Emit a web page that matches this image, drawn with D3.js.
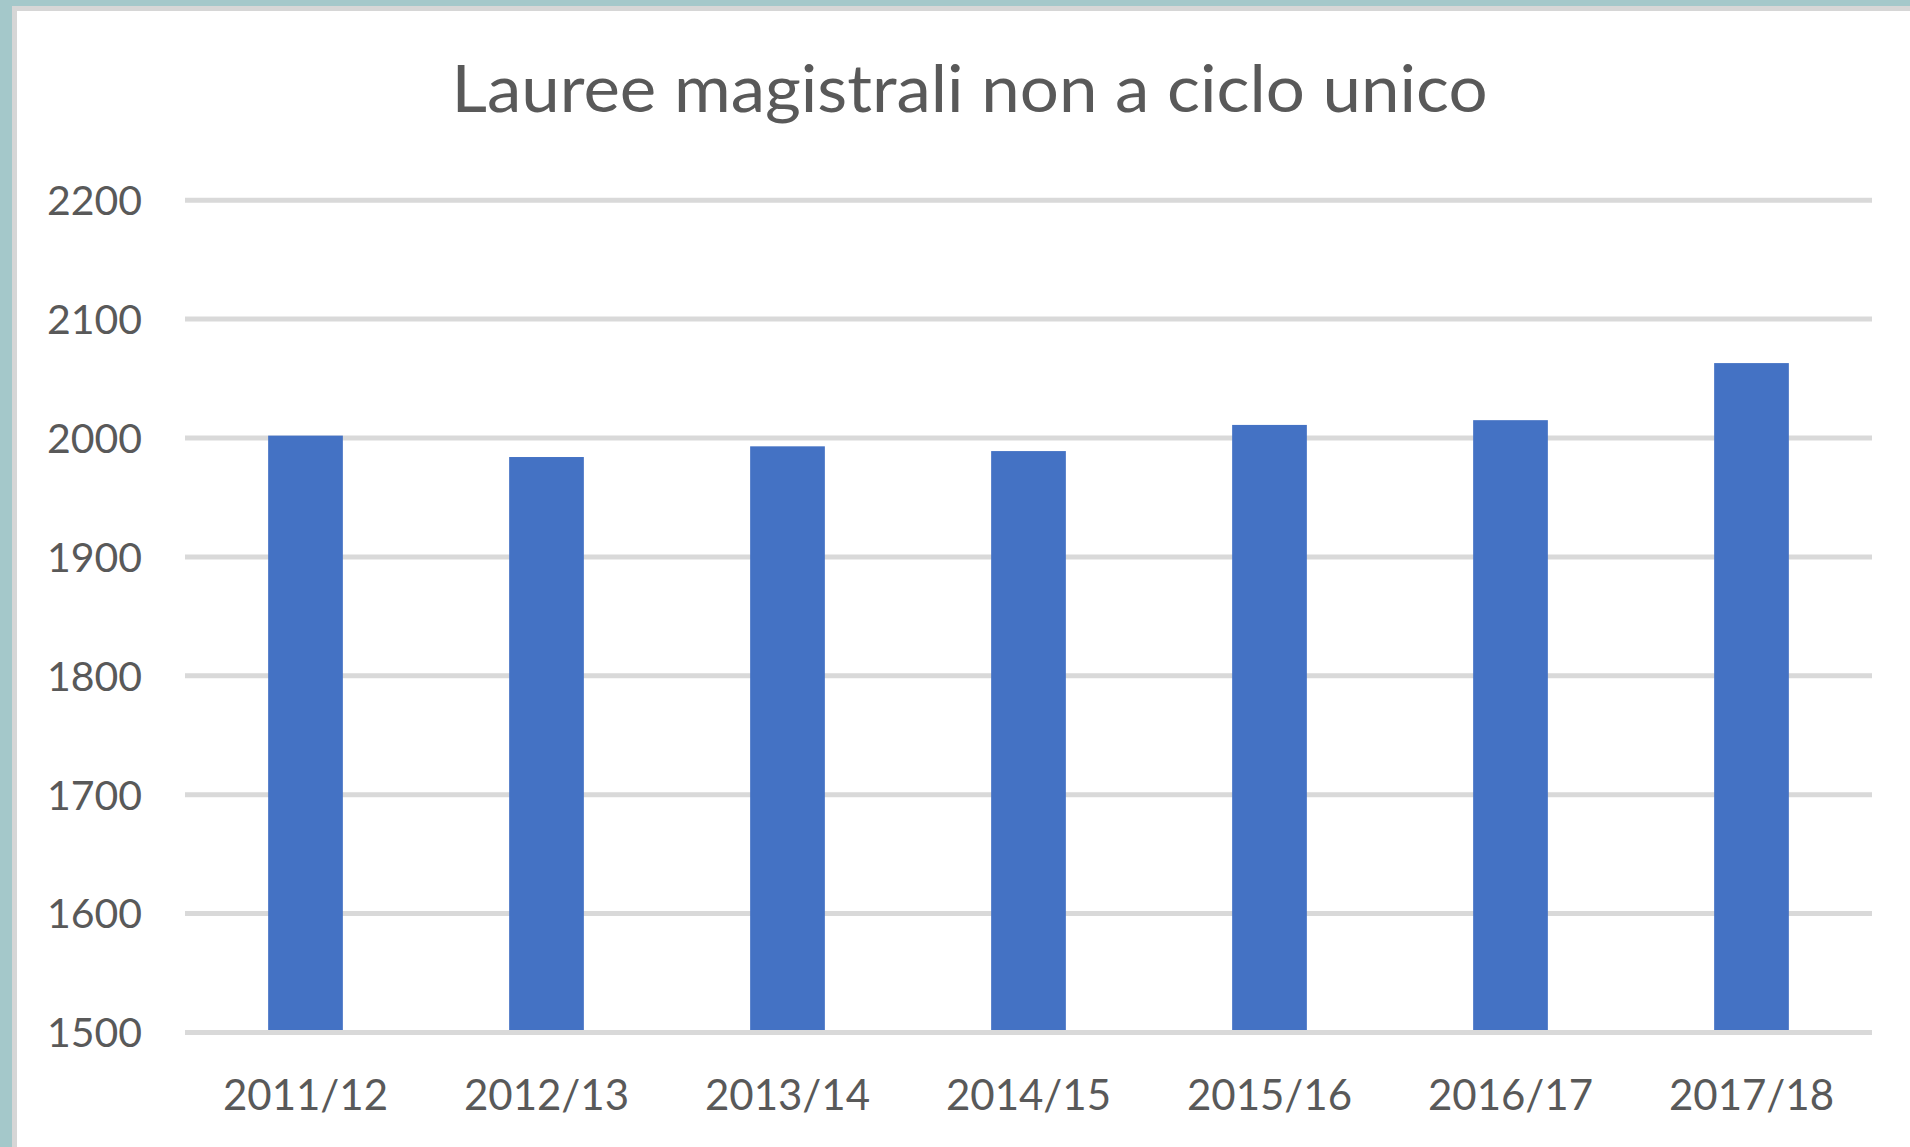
<!DOCTYPE html>
<html>
<head>
<meta charset="utf-8">
<script src="https://cdn.jsdelivr.net/npm/d3@7"></script>
<style>
html,body{margin:0;padding:0;background:#ffffff;}
svg{display:block;}
text{font-family:Lato,"Open Sans",sans-serif;fill:#595959;}
</style>
</head>
<body>
<svg id="chart" width="1910" height="1147"></svg>
<script>
const title = "Lauree magistrali non a ciclo unico";
const categories = ["2011/12","2012/13","2013/14","2014/15","2015/16","2016/17","2017/18"];
const values = [2002, 1984, 1993, 1989, 2011, 2015, 2063];
const yTicks = [1500, 1600, 1700, 1800, 1900, 2000, 2100, 2200];

const W = 1910, H = 1147;
const svg = d3.select("#chart");

// frame (slide background + chart border)
svg.append("rect").attr("x",0).attr("y",0).attr("width",W).attr("height",H).attr("fill","#a4c8ca");
svg.append("rect").attr("x",12).attr("y",6).attr("width",W-12).attr("height",H-6).attr("fill","#d6d6d6");
svg.append("rect").attr("x",17).attr("y",11).attr("width",W-17).attr("height",H-11).attr("fill","#ffffff");

const plot = {left:185, right:1872, top:200.2, bottom:1032.5};

const x = d3.scaleBand().domain(categories).range([plot.left, plot.right]).paddingInner(0.69).paddingOuter(0.345);
const y = d3.scaleLinear().domain([1500, 2200]).range([plot.bottom, plot.top]);

// gridlines
svg.append("g").selectAll("line").data(yTicks.filter(d => d !== 1500)).join("line")
  .attr("x1", plot.left).attr("x2", plot.right)
  .attr("y1", d => y(d)).attr("y2", d => y(d))
  .attr("stroke", "#d9d9d9").attr("stroke-width", 5);

// bars
svg.append("g").selectAll("rect").data(values).join("rect")
  .attr("x", (d,i) => x(categories[i]))
  .attr("width", x.bandwidth())
  .attr("y", d => y(d))
  .attr("height", d => y(1500) - y(d))
  .attr("fill", "#4472c4");

// baseline
svg.append("line").attr("x1", plot.left).attr("x2", plot.right)
  .attr("y1", y(1500)).attr("y2", y(1500))
  .attr("stroke", "#d9d9d9").attr("stroke-width", 5);

// y axis labels
const yAxis = d3.axisLeft(y).tickValues(yTicks).tickSize(0).tickPadding(0).tickFormat(d3.format("d"));
const gy = svg.append("g").attr("transform", `translate(142,0)`).call(yAxis);
gy.select(".domain").remove();
gy.selectAll("text").style("font-size","41px").attr("fill","#595959").attr("dy","0.35em")
  .style("font-family","Lato, sans-serif");

// x axis labels
const xAxis = d3.axisBottom(x).tickSize(0).tickPadding(0);
const gx = svg.append("g").attr("transform", `translate(0,1110)`).call(xAxis);
gx.select(".domain").remove();
gx.selectAll("text").style("font-size","42px").attr("fill","#595959").attr("dy","0")
  .style("font-family","Lato, sans-serif");

// title
svg.append("text").attr("x", 969.5).attr("y", 111.7).attr("text-anchor","middle")
  .style("font-size","65px")
  .attr("textLength", 1036).attr("lengthAdjust","spacingAndGlyphs")
  .text(title);
</script>
</body>
</html>
